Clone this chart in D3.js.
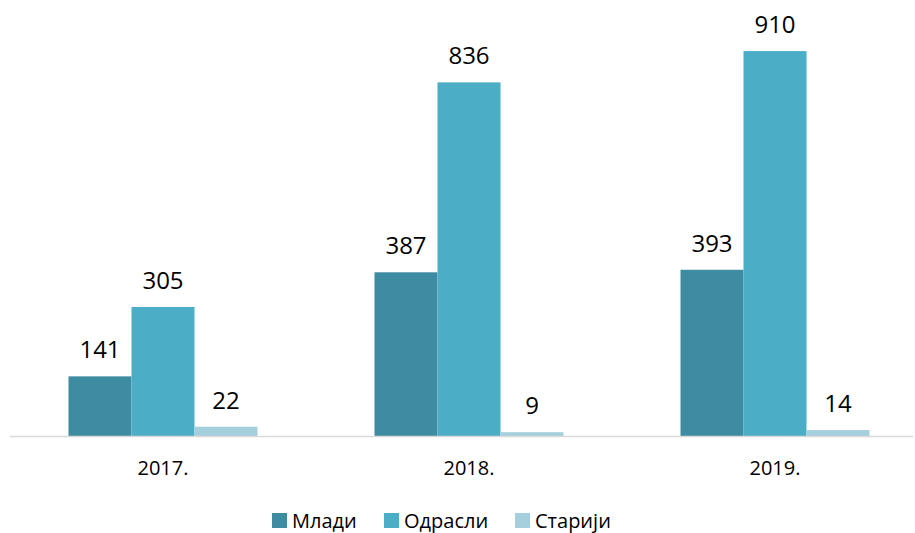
<!DOCTYPE html>
<html><head><meta charset="utf-8">
<script src="https://cdn.jsdelivr.net/npm/d3@7"></script>
<style>body{margin:0;background:#fff}svg{display:block}text{font-family:"Open Sans",sans-serif;fill:#000}</style>
</head><body><svg id="c" width="915" height="533"></svg>
<script>
const years = ["2017.", "2018.", "2019."];
const seriesNames = ["Млади", "Одрасли", "Старији"];
const mladi = [141, 387, 393];
const odrasli = [305, 836, 910];
const stariji = [22, 9, 14];
const colors = ["#3D8CA2", "#4BADC6", "#A6CFDD"];

const svg = d3.select("#c");
const base = 436;
const x = d3.scaleBand().domain(years).range([10, 928]).paddingInner(0).paddingOuter(0);
const y = d3.scaleLinear().domain([0, 1000]).range([base, base - 423]);
const inner = d3.scaleBand().domain(seriesNames).range([0, 189]);
const values = [mladi, odrasli, stariji];

const groups = svg.selectAll("g.grp").data(years).join("g")
  .attr("transform", d => `translate(${x(d) + x.bandwidth()/2 - 94.5},0)`);

seriesNames.forEach((s, si) => {
  groups.append("rect")
    .attr("x", inner(s))
    .attr("width", inner.bandwidth())
    .attr("y", (d, i) => y(values[si][i]))
    .attr("height", (d, i) => base - y(values[si][i]))
    .attr("fill", colors[si]);
  groups.append("text")
    .attr("x", inner(s) + inner.bandwidth()/2)
    .attr("y", (d, i) => y(values[si][i]) - 18)
    .attr("text-anchor", "middle")
    .attr("font-size", 24)
    .text((d, i) => values[si][i]);
});

svg.append("line").attr("x1", 10).attr("x2", 913).attr("y1", base + 0.5).attr("y2", base + 0.5)
  .attr("stroke", "#d9d9d9").attr("stroke-width", 1.5);

const xAxis = d3.axisBottom(x).tickSize(0).tickPadding(0);
const ax = svg.append("g").attr("transform", `translate(0,${base})`).call(xAxis);
ax.select(".domain").remove();
ax.selectAll("text").attr("y", 39).attr("dy", 0).attr("font-size", 20)
  .attr("font-family", "Open Sans, sans-serif").attr("fill", "#000");

const legX = [272, 384, 515];
const leg = svg.append("g");
seriesNames.forEach((s, i) => {
  leg.append("rect").attr("x", legX[i]).attr("y", 513).attr("width", 15).attr("height", 15).attr("fill", colors[i]);
  leg.append("text").attr("x", legX[i] + 20).attr("y", 528).attr("font-size", 20).text(s);
});
</script></body></html>
